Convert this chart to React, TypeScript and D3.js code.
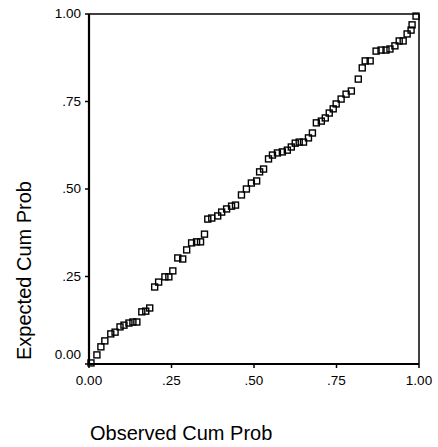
import React from "react";
import * as d3 from "d3";

const observed: number[] = [
  0.006, 0.024, 0.036, 0.048, 0.066, 0.079, 0.094, 0.106, 0.121, 0.133, 0.145,
  0.16, 0.172, 0.184, 0.199, 0.211, 0.23, 0.242, 0.254, 0.269, 0.284, 0.296,
  0.311, 0.326, 0.338, 0.35, 0.36, 0.372, 0.39, 0.402, 0.417, 0.432, 0.444,
  0.462, 0.477, 0.492, 0.508, 0.517, 0.529, 0.544, 0.556, 0.571, 0.586, 0.601,
  0.613, 0.625, 0.637, 0.65, 0.665, 0.677, 0.689, 0.704, 0.716, 0.728, 0.74,
  0.749, 0.764, 0.779, 0.795, 0.816, 0.828, 0.837, 0.852, 0.87, 0.885, 0.9,
  0.912, 0.927, 0.94, 0.952, 0.964, 0.976, 0.979, 0.991,
];
const expected: number[] = [
  0.003, 0.026, 0.049, 0.066, 0.086, 0.091, 0.106, 0.111, 0.117, 0.12, 0.12,
  0.149, 0.151, 0.16, 0.22, 0.234, 0.249, 0.249, 0.266, 0.303, 0.3, 0.326,
  0.346, 0.349, 0.349, 0.371, 0.414, 0.417, 0.423, 0.434, 0.443, 0.451, 0.454,
  0.483, 0.5, 0.517, 0.523, 0.549, 0.557, 0.586, 0.597, 0.603, 0.606, 0.611,
  0.62, 0.631, 0.634, 0.634, 0.646, 0.66, 0.689, 0.694, 0.703, 0.717, 0.729,
  0.743, 0.757, 0.771, 0.78, 0.814, 0.846, 0.866, 0.866, 0.894, 0.897, 0.897,
  0.9, 0.909, 0.923, 0.923, 0.943, 0.954, 0.969, 0.994,
];
const tickValues: number[] = [0, 0.25, 0.5, 0.75, 1];
const xTickLabels: string[] = ["0.00", ".25", ".50", ".75", "1.00"];
const yTickLabels: string[] = ["0.00", ".25", ".50", ".75", "1.00"];
const xTitle = "Observed Cum Prob";
const yTitle = "Expected Cum Prob";

const W = 438;
const H = 447;
const left = 89;
const right = 419;
const top = 14;
const bottom = 364;

export default function App() {
  const x = d3.scaleLinear().domain([0, 1]).range([left, right]);
  const y = d3.scaleLinear().domain([0, 1]).range([bottom, top]);
  const pts = observed.map((o, i) => ({ o, e: expected[i] }));
  const s = 6;
  const font = "'Liberation Sans', Arial, sans-serif";
  return (
    <svg
      width={W}
      height={H}
      style={{ position: "absolute", left: 0, top: 0, background: "#fff" }}
    >
      <rect x={0} y={0} width={W} height={H} fill="#fff" />
      {/* frame */}
      <line x1={x(0)} y1={y(1)} x2={x(1)} y2={y(1)} stroke="#000" strokeWidth={1.5} />
      <line x1={x(1)} y1={y(1)} x2={x(1)} y2={y(0)} stroke="#000" strokeWidth={1.5} />
      <line x1={x(0)} y1={y(0)} x2={x(1)} y2={y(0)} stroke="#000" strokeWidth={2} />
      <line x1={x(0)} y1={y(1)} x2={x(0)} y2={y(0)} stroke="#000" strokeWidth={2.2} />
      {/* y ticks */}
      {tickValues.map((t, i) => (
        <g key={"y" + i}>
          <line x1={x(0) - 4} x2={x(0)} y1={y(t)} y2={y(t)} stroke="#000" strokeWidth={1.5} />
          <text
            x={x(0) - 8}
            y={y(t) + (i === 0 ? -5 : 4)}
            textAnchor="end"
            fontFamily={font}
            fontSize={13.5}
            fill="#000"
          >
            {yTickLabels[i]}
          </text>
        </g>
      ))}
      {/* x ticks */}
      {tickValues.map((t, i) => (
        <g key={"x" + i}>
          <line x1={x(t)} x2={x(t)} y1={y(0)} y2={y(0) + 4} stroke="#000" strokeWidth={1.5} />
          <text
            x={x(t)}
            y={y(0) + 21}
            textAnchor="middle"
            fontFamily={font}
            fontSize={13.5}
            fill="#000"
          >
            {xTickLabels[i]}
          </text>
        </g>
      ))}
      {/* points */}
      {pts.map((p, i) => (
        <rect
          key={"p" + i}
          x={x(p.o) - s / 2}
          y={y(p.e) - s / 2}
          width={s}
          height={s}
          fill="none"
          stroke="#000"
          strokeWidth={1.4}
        />
      ))}
      {/* titles */}
      <text x={90} y={440} fontFamily={font} fontSize={20} fill="#000">
        {xTitle}
      </text>
      <text
        transform={`translate(31, 360) rotate(-90)`}
        fontFamily={font}
        fontSize={20}
        fill="#000"
      >
        {yTitle}
      </text>
    </svg>
  );
}
